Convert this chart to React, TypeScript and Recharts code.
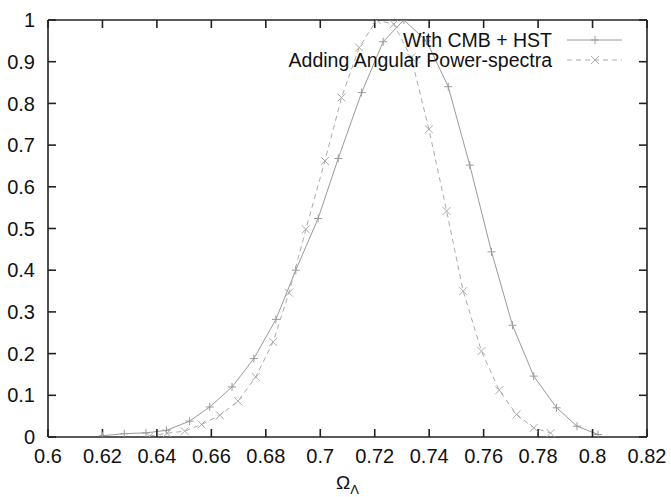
import { LineChart, Line, XAxis, YAxis } from "recharts"

const xTicks = [0.6, 0.62, 0.64, 0.66, 0.68, 0.7, 0.72, 0.74, 0.76, 0.78, 0.8, 0.82]
const yTicks = [0, 0.1, 0.2, 0.3, 0.4, 0.5, 0.6, 0.7, 0.8, 0.9, 1]

const seriesNames = ["With CMB + HST", "Adding Angular Power-spectra"]

// With CMB + HST
const cmbX = [0.62, 0.628, 0.636, 0.6435, 0.652, 0.6594, 0.6676, 0.6756, 0.6837, 0.691, 0.6992, 0.7066, 0.7152, 0.7231, 0.7307, 0.739, 0.747, 0.7549, 0.7629, 0.7706, 0.7784, 0.7868, 0.7943, 0.802]
const cmbY = [0.003, 0.008, 0.01, 0.016, 0.038, 0.072, 0.12, 0.188, 0.282, 0.4, 0.524, 0.668, 0.826, 0.948, 1.0, 0.95, 0.84, 0.652, 0.444, 0.268, 0.146, 0.07, 0.026, 0.006]

// Adding angular power-spectra
const apsX = [0.6373, 0.6437, 0.6502, 0.6564, 0.6631, 0.6698, 0.6763, 0.6827, 0.6885, 0.6947, 0.7017, 0.7078, 0.7143, 0.7207, 0.727, 0.7334, 0.7399, 0.7464, 0.7525, 0.7592, 0.7657, 0.7721, 0.7784, 0.7846]
const apsY = [0.002, 0.009, 0.014, 0.03, 0.052, 0.086, 0.144, 0.228, 0.346, 0.498, 0.662, 0.814, 0.934, 1.0, 0.99, 0.91, 0.738, 0.542, 0.35, 0.206, 0.112, 0.054, 0.022, 0.0096]

const cmbData = cmbX.map((x, i) => ({ x, y: cmbY[i] }))
const apsData = apsX.map((x, i) => ({ x, y: apsY[i] }))

const SOLID = "#9a9a9a"
const DASHED = "#ababab"
const AXIS = "#222"
const FONT = "'Liberation Sans', Arial, Helvetica, sans-serif"

const fmt = (v: number) => String(Number(v.toFixed(2)))

// eslint-disable-next-line @typescript-eslint/no-explicit-any
const plusDot = (props: any) => {
  const { cx, cy, index } = props
  return <path key={`p-${index}`} d={`M${cx - 4},${cy}h8M${cx},${cy - 4}v8`} stroke={SOLID} strokeWidth={1} fill="none" />
}

// eslint-disable-next-line @typescript-eslint/no-explicit-any
const crossDot = (props: any) => {
  const { cx, cy, index } = props
  return <path key={`c-${index}`} d={`M${cx - 4},${cy - 4}l8,8M${cx - 4},${cy + 4}l8,-8`} stroke={DASHED} strokeWidth={1} fill="none" />
}

// eslint-disable-next-line @typescript-eslint/no-explicit-any
const axisTitle = (props: any) => {
  const { viewBox } = props
  const cx = viewBox.x + viewBox.width / 2
  return (
    <text x={cx} y={viewBox.y + 52} textAnchor="middle" fontSize={19} fill="#111" fontFamily={FONT}>
      Ω<tspan dy={5} fontSize={13}>Λ</tspan>
    </text>
  )
}

function LegendOverlay() {
  const rows = [
    { name: seriesNames[0], color: SOLID, dash: undefined, y: 40, mark: "plus" },
    { name: seriesNames[1], color: DASHED, dash: "5 4", y: 60, mark: "cross" },
  ]
  return (
    <svg width={671} height={497} style={{ position: "absolute", left: 0, top: 0, pointerEvents: "none" }}>
      {rows.map((r) => (
        <g key={r.name}>
          <text x={552} y={r.y + 7} textAnchor="end" fontSize={19.5} fill="#111" fontFamily={FONT}>
            {r.name}
          </text>
          <line x1={567} x2={622} y1={r.y} y2={r.y} stroke={r.color} strokeDasharray={r.dash} />
          {r.mark === "plus" ? (
            <path d={`M591,${r.y}h8M595,${r.y - 4}v8`} stroke={r.color} />
          ) : (
            <path d={`M591,${r.y - 4}l8,8M591,${r.y + 4}l8,-8`} stroke={r.color} />
          )}
        </g>
      ))}
    </svg>
  )
}

export default function App() {
  return (
    <div style={{ position: "absolute", left: 0, top: 0, width: 671, height: 497, background: "#fff", fontFamily: FONT }}>
      <LineChart width={671} height={497} margin={{ top: 19, right: 23, bottom: 0, left: 0 }}>
        <XAxis
          xAxisId="bottom"
          dataKey="x"
          type="number"
          domain={[0.6, 0.82]}
          ticks={xTicks}
          tickFormatter={fmt}
          allowDataOverflow
          height={60}
          tickSize={-8}
          tickMargin={20}
          stroke={AXIS}
          strokeWidth={1.6}
          tick={{ fontSize: 20, fill: "#111", fontFamily: FONT }}
          label={{ content: axisTitle }}
        />
        <XAxis
          xAxisId="top"
          orientation="top"
          dataKey="x"
          type="number"
          domain={[0.6, 0.82]}
          ticks={xTicks}
          tickFormatter={() => ""}
          allowDataOverflow
          height={1}
          tickSize={-8}
          stroke={AXIS}
          strokeWidth={1.6}
        />
        <YAxis
          yAxisId="left"
          type="number"
          domain={[0, 1]}
          ticks={yTicks}
          tickFormatter={fmt}
          allowDataOverflow
          width={48}
          tickSize={-8}
          tickMargin={21}
          stroke={AXIS}
          strokeWidth={1.6}
          tick={{ fontSize: 20, fill: "#111", fontFamily: FONT }}
        />
        <YAxis
          yAxisId="right"
          orientation="right"
          type="number"
          domain={[0, 1]}
          ticks={yTicks}
          tickFormatter={() => ""}
          allowDataOverflow
          width={1}
          tickSize={-8}
          stroke={AXIS}
          strokeWidth={1.6}
        />
        <Line
          xAxisId="bottom"
          yAxisId="left"
          data={cmbData}
          dataKey="y"
          name={seriesNames[0]}
          type="linear"
          stroke={SOLID}
          strokeWidth={1}
          dot={plusDot}
          activeDot={false}
          isAnimationActive={false}
        />
        <Line
          xAxisId="bottom"
          yAxisId="left"
          data={apsData}
          dataKey="y"
          name={seriesNames[1]}
          type="linear"
          stroke={DASHED}
          strokeWidth={1}
          strokeDasharray="5 4"
          dot={crossDot}
          activeDot={false}
          isAnimationActive={false}
        />
      </LineChart>
      <LegendOverlay />
    </div>
  )
}
